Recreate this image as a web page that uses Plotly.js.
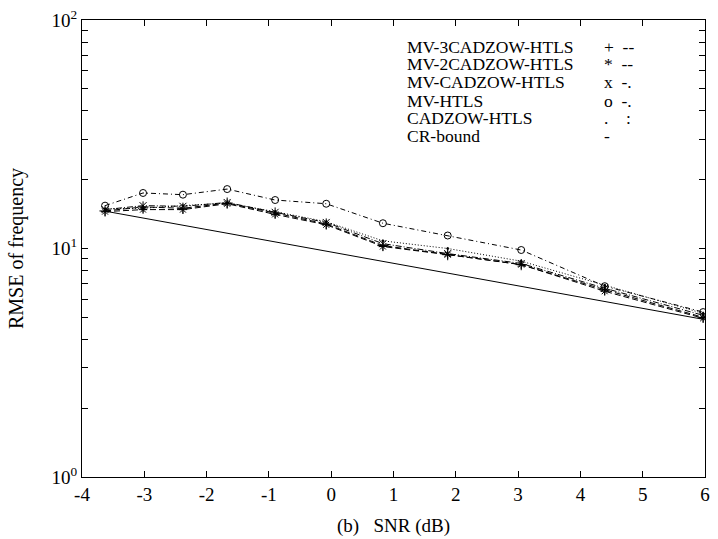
<!DOCTYPE html>
<html>
<head>
<meta charset="utf-8">
<script src="https://cdn.plot.ly/plotly-3.0.1.min.js"></script>
<style>html,body{margin:0;padding:0;background:#fff;}#chart{width:718px;height:539px;}</style>
</head>
<body>
<div id="chart"></div>
<script>
const snr = [-3.63, -3.02, -2.38, -1.67, -0.90, -0.08, 0.83, 1.87, 3.05, 4.39, 5.97];
const mv3cadzow = [14.6, 15.2, 15.0, 15.8, 14.3, 12.8, 10.3, 9.4, 8.5, 6.6, 5.0];
const mv2cadzow = [14.5, 14.8, 14.8, 15.7, 14.1, 12.7, 10.2, 9.4, 8.5, 6.5, 4.95];
const mvcadzow = [14.8, 15.4, 15.3, 15.9, 14.4, 13.0, 10.5, 9.5, 8.6, 6.7, 5.1];
const mvhtls = [15.4, 17.5, 17.2, 18.2, 16.3, 15.7, 12.9, 11.4, 9.85, 6.84, 5.27];
const cadzowhtls = [14.9, 15.0, 15.4, 15.8, 14.5, 13.1, 10.8, 10.0, 8.8, 6.9, 5.2];
const crbound = [14.57, 13.59, 12.64, 11.67, 10.69, 9.74, 8.78, 7.79, 6.83, 5.86, 4.90];

const legendNames = ["MV-3CADZOW-HTLS", "MV-2CADZOW-HTLS", "MV-CADZOW-HTLS", "MV-HTLS", "CADZOW-HTLS", "CR-bound"];
const legendMarks = ["+ --", "* --", "x -.", "o -.", ".  :", "-"];
const xTicks = [-4, -3, -2, -1, 0, 1, 2, 3, 4, 5, 6];
const yTicks = [1, 10, 100];
const yTickText = ["10<sup>0</sup>", "10<sup>1</sup>", "10<sup>2</sup>"];

const series = [
  {y: mv3cadzow, sym: 'cross-thin-open', size: 8, dash: '6px,3px'},
  {y: mv2cadzow, sym: 'asterisk-open', size: 7, dash: '6px,3px'},
  {y: mvcadzow, sym: 'x-thin-open', size: 7, dash: '6px,2px,1px,2px'},
  {y: mvhtls, sym: 'circle-open', size: 7, dash: '5px,3px,1px,3px'},
  {y: cadzowhtls, sym: 'circle', size: 2, dash: '1px,2px'},
  {y: crbound, sym: null, size: 0, dash: 'solid'}
];

const traces = series.map((s, i) => ({
  x: snr, y: s.y, name: legendNames[i], type: 'scatter',
  mode: s.sym ? 'lines+markers' : 'lines',
  line: {color: '#000', width: 1, dash: s.dash},
  marker: {symbol: s.sym || 'circle', size: s.size || 1, color: '#000', line: {color: '#000', width: 1}},
  showlegend: false
}));

const minorY = [];
[1, 10].forEach(d => { for (let k = 2; k <= 9; k++) minorY.push(d * k); });

const font = {family: 'Liberation Serif, Times New Roman, serif', color: '#000'};
const annotations = [];
legendNames.forEach((n, i) => {
  const yy = 1 - (46 + i * 18 - 20) / 457;
  annotations.push({xref: 'paper', yref: 'paper', x: (405 - 82) / 623, y: yy, height: 15,
    xanchor: 'left', yanchor: 'middle', text: n, showarrow: false, font: Object.assign({size: 17.5}, font)});
  annotations.push({xref: 'paper', yref: 'paper', x: (602 - 82) / 623, y: yy, height: 15,
    xanchor: 'left', yanchor: 'middle', text: legendMarks[i].replace(/ /g, '&nbsp;&nbsp;'), showarrow: false, font: Object.assign({size: 17.5}, font)});
});

const layout = {
  width: 718, height: 539,
  margin: {l: 82, r: 13, t: 20, b: 62},
  paper_bgcolor: '#fff', plot_bgcolor: '#fff',
  font: Object.assign({size: 18}, font),
  showlegend: false,
  xaxis: {
    range: [-4, 6], tickvals: xTicks, ticktext: xTicks.map(String),
    ticks: 'inside', ticklen: 6, tickcolor: '#000', tickwidth: 1,
    showline: true, linecolor: '#000', linewidth: 1, mirror: 'ticks',
    showgrid: false, zeroline: false,
    tickfont: Object.assign({size: 19}, font),
    title: {text: '(b)&nbsp;&nbsp;&nbsp;SNR (dB)', font: Object.assign({size: 19}, font), standoff: 14}
  },
  yaxis: {
    type: 'log', range: [0, 2], tickvals: yTicks, ticktext: yTickText,
    ticks: 'inside', ticklen: 6, tickcolor: '#000', tickwidth: 1,
    minor: {tickvals: minorY, ticks: 'inside', ticklen: 6, tickcolor: '#000'},
    showline: true, linecolor: '#000', linewidth: 1, mirror: 'ticks',
    showgrid: false, zeroline: false,
    tickfont: Object.assign({size: 19}, font),
    title: {text: 'RMSE of frequency', font: Object.assign({size: 20}, font), standoff: 22}
  },
  annotations: annotations
};

Plotly.newPlot('chart', traces, layout, {displayModeBar: false, staticPlot: true});
</script>
</body>
</html>
